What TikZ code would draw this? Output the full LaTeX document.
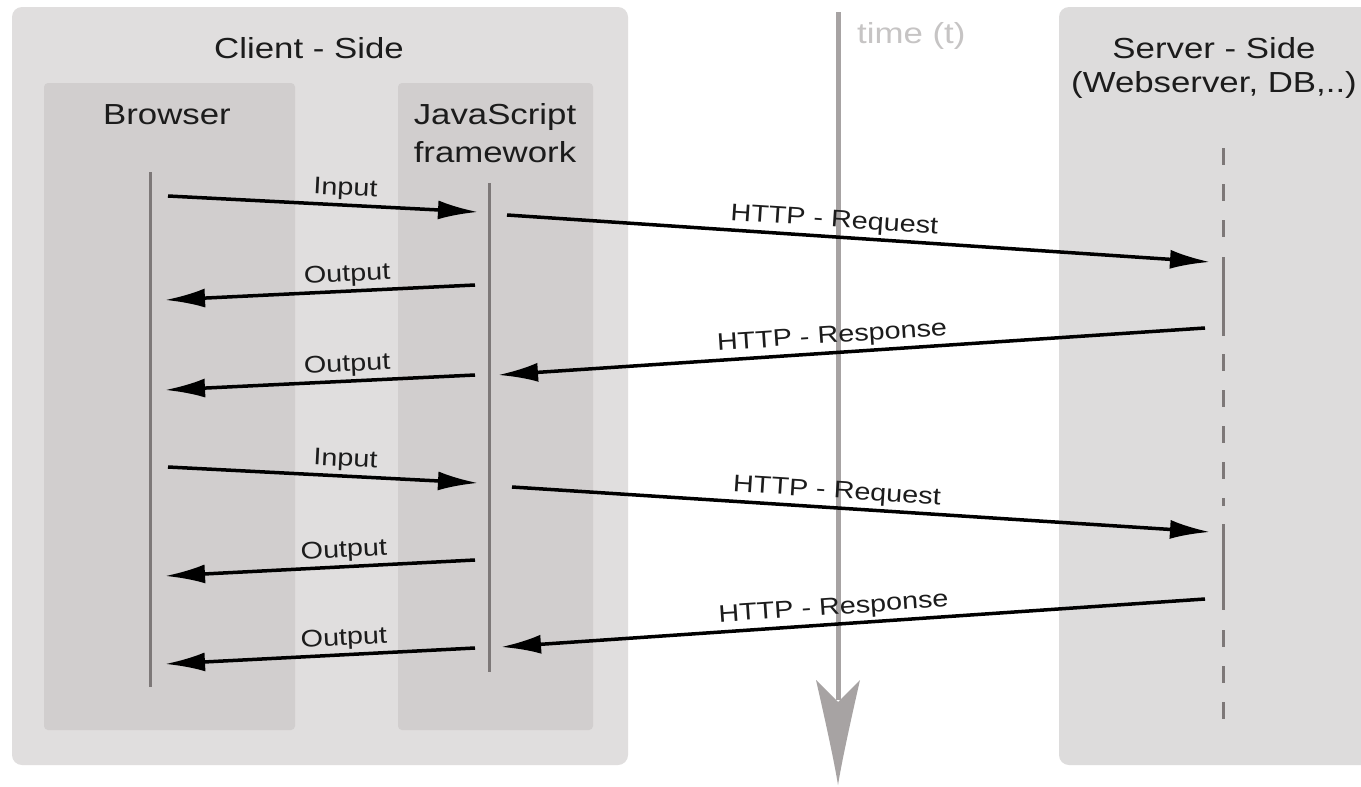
\documentclass[tikz,border=0pt]{standalone}
\usepackage{fontspec}
\setmainfont{Liberation Sans}
\newfontfamily\hfont[FakeStretch=1.2]{Liberation Sans}
\usetikzlibrary{arrows.meta}
\definecolor{outerbg}{RGB}{224,222,222}
\definecolor{innerbg}{RGB}{209,206,206}
\definecolor{serverbg}{RGB}{221,220,220}
\definecolor{txt}{RGB}{28,28,28}
\definecolor{lifec}{RGB}{125,120,120}
\definecolor{timec}{RGB}{167,163,163}
\definecolor{timetxt}{RGB}{198,196,196}
\begin{document}
\begin{tikzpicture}[x=1pt,y=-1pt,
  head/.style={font=\hfont\fontsize{29}{34}\selectfont, text=txt, inner sep=0pt},
  lab/.style={font=\hfont\fontsize{24}{28}\selectfont, text=txt, inner sep=3pt, sloped, above},
  msg/.style={line width=3.5pt, draw=black, -{Latex[length=40pt,width=19pt]}},
  life/.style={line width=3pt, draw=lifec},
  srvdash/.style={line width=3pt, draw=lifec, dash pattern=on 17pt off 19pt},
  timeline/.style={line width=5pt, draw=timec}]
\useasboundingbox (0,0) rectangle (1361,787);
\clip (0,0) rectangle (1361,787);
\fill[white] (0,0) rectangle (1361,787);

% panels
\fill[outerbg, rounded corners=10pt] (12,7) rectangle (628,765);
\fill[innerbg, rounded corners=4pt] (44,83) rectangle (295,730);
\fill[innerbg, rounded corners=4pt] (398,83) rectangle (593,730);
\fill[serverbg, rounded corners=10pt] (1059,7) rectangle (1390,765);

% headings
\node[head, anchor=base] (client) at (309,58) {Client - Side};
\node[head, anchor=base] (browser) at (167,124) {Browser};
\node[head, anchor=north, align=center, font=\hfont\fontsize{29}{38}\selectfont] (js) at (495,103) {JavaScript\\framework};
\node[head, anchor=north, align=center] (server) at (1214,37) {Server - Side\\(Webserver, DB,..)};
\node[head, anchor=base west, text=timetxt] (time) at (857,43) {time (t)};

% time arrow
\coordinate (t0) at (838,12);
\coordinate (t1) at (838,700);
\coordinate (t2) at (838,785);
\draw[timeline] (t0) -- (t1);
\fill[timec] (t2) .. controls (834,760) and (824,715) .. (816,680)
  -- (838,702) -- (860,680) .. controls (852,715) and (842,760) .. (t2) -- cycle;

% lifelines
\coordinate (bt) at (150,172);
\coordinate (bb) at (150,687);
\coordinate (jt) at (489,183);
\coordinate (jb) at (489,672);
\draw[life] (bt) -- (bb);
\draw[life] (jt) -- (jb);

% server line
\coordinate (s0) at (1223,148);
\coordinate (s1) at (1223,240);
\coordinate (s2) at (1223,257);
\coordinate (s3) at (1223,336);
\coordinate (s4) at (1223,354);
\coordinate (s5) at (1223,506);
\coordinate (s6) at (1223,524);
\coordinate (s7) at (1223,610);
\coordinate (s8) at (1223,630);
\coordinate (s9) at (1223,722);
\draw[srvdash] (s0) -- (s1);
\draw[life] (s2) -- (s3);
\draw[srvdash] (s4) -- (s5);
\draw[life] (s6) -- (s7);
\draw[srvdash] (s8) -- (s9);

% message end points
\coordinate (b1) at (168,196);  \coordinate (j1) at (478,212);
\coordinate (j2) at (475,285);  \coordinate (b2) at (165,300);
\coordinate (j3) at (475,375);  \coordinate (b3) at (165,390);
\coordinate (b4) at (168,467);  \coordinate (j4) at (478,483);
\coordinate (j5) at (475,560);  \coordinate (b5) at (165,576);
\coordinate (j6) at (475,648);  \coordinate (b6) at (165,664);
\coordinate (jr1) at (507,215); \coordinate (sr1) at (1210,262);
\coordinate (ss1) at (1205,328); \coordinate (js1) at (498,375);
\coordinate (jr2) at (512,487); \coordinate (sr2) at (1210,532);
\coordinate (ss2) at (1205,599); \coordinate (js2) at (501,647);

\draw[msg] (b1) -- node[lab, pos=0.57] (l1) {Input} (j1);
\draw[msg] (j2) -- node[lab, pos=0.41] (l2) {Output} (b2);
\draw[msg] (j3) -- node[lab, pos=0.41] (l3) {Output} (b3);
\draw[msg] (b4) -- node[lab, pos=0.57] (l4) {Input} (j4);
\draw[msg] (j5) -- node[lab, pos=0.42] (l5) {Output} (b5);
\draw[msg] (j6) -- node[lab, pos=0.42] (l6) {Output} (b6);
\draw[msg] (jr1) -- node[lab, pos=0.464] (l7) {HTTP - Request} (sr1);
\draw[msg] (ss1) -- node[lab, pos=0.526] (l8) {HTTP - Response} (js1);
\draw[msg] (jr2) -- node[lab, pos=0.464] (l9) {HTTP - Request} (sr2);
\draw[msg] (ss2) -- node[lab, pos=0.526] (l10) {HTTP - Response} (js2);
\end{tikzpicture}
\end{document}
